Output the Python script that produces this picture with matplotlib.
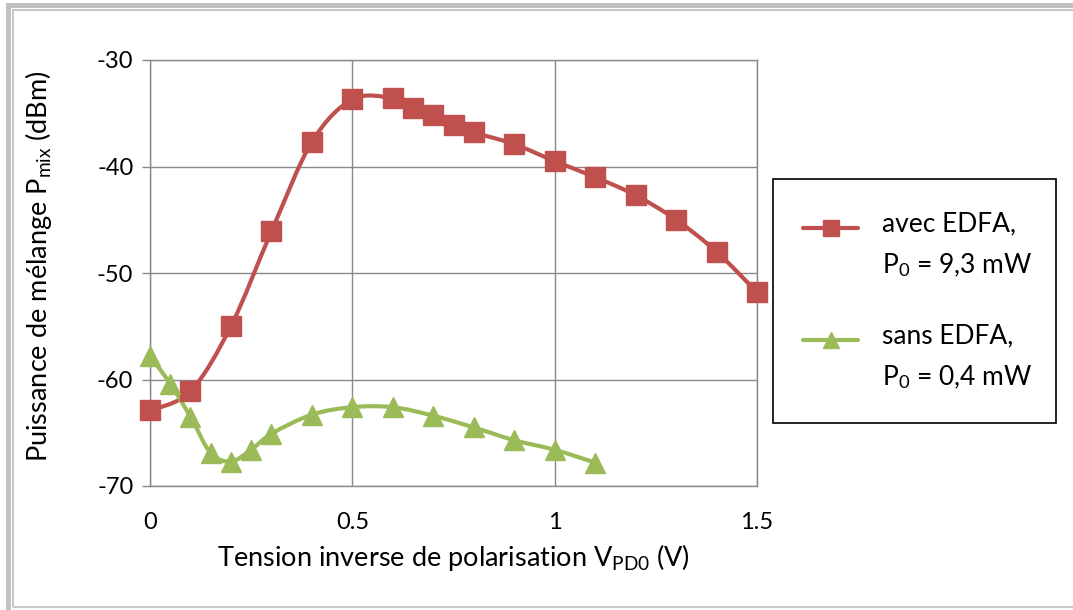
import numpy as np
import matplotlib
matplotlib.use("Agg")
import matplotlib.pyplot as plt
from matplotlib.path import Path
from matplotlib.patches import PathPatch, Rectangle
from matplotlib.lines import Line2D

plt.rcParams['font.family'] = ['Lato', 'DejaVu Sans']
plt.rcParams['mathtext.fontset'] = 'custom'
plt.rcParams['mathtext.rm'] = 'Lato'
plt.rcParams['mathtext.it'] = 'Lato:italic'
plt.rcParams['axes.unicode_minus'] = False

# mesures : tension inverse (V) / puissance de mélange (dBm)
V_AVEC = [0, 0.1, 0.2, 0.3, 0.4, 0.5, 0.6, 0.65, 0.7, 0.75, 0.8, 0.9,
          1.0, 1.1, 1.2, 1.3, 1.4, 1.5]
P_AVEC = [-62.9, -61.1, -55.0, -46.1, -37.7, -33.7, -33.6, -34.5, -35.2,
          -36.1, -36.8, -37.9, -39.5, -41.0, -42.7, -45.0, -48.0, -51.8]

V_SANS = [0, 0.05, 0.1, 0.15, 0.2, 0.25, 0.3, 0.4, 0.5, 0.6, 0.7, 0.8,
          0.9, 1.0, 1.1]
P_SANS = [-57.8, -60.4, -63.5, -66.9, -67.7, -66.6, -65.1, -63.3, -62.6,
          -62.6, -63.4, -64.5, -65.7, -66.6, -67.8]

X_TICKS = [0, 0.5, 1, 1.5]
X_TICKLABELS = ['0', '0.5', '1', '1.5']
Y_TICKS = [-70, -60, -50, -40, -30]

LABEL_AVEC = ['avec EDFA,', 'P$_0$ = 9,3 mW']
LABEL_SANS = ['sans EDFA,', 'P$_0$ = 0,4 mW']

ROUGE = '#C0504D'
VERT = '#9BBB59'
GRIS = '#898989'

W, H = 1073, 610


def smooth_path(x, y):
    # courbe lissée (Bezier type Catmull-Rom) passant par les points
    pts = np.column_stack([x, y]).astype(float)
    ext = np.vstack([pts[0], pts, pts[-1]])
    verts = [pts[0]]
    codes = [Path.MOVETO]
    for i in range(len(pts) - 1):
        p0, p1, p2, p3 = ext[i], ext[i + 1], ext[i + 2], ext[i + 3]
        verts += [p1 + (p2 - p0) / 6, p2 - (p3 - p1) / 6, p2]
        codes += [Path.CURVE4] * 3
    return Path(verts, codes)


def fx(px):
    return px / W


def fy(py):
    return 1 - py / H


fig = plt.figure(figsize=(W / 100, H / 100), dpi=100)
ax = fig.add_axes([fx(150), fy(486), fx(757) - fx(150), fy(60) - fy(486)])

for v, p, col, mk in [(V_AVEC, P_AVEC, ROUGE, 's'),
                      (V_SANS, P_SANS, VERT, '^')]:
    ax.add_patch(PathPatch(smooth_path(v, p), fill=False, ec=col, lw=3,
                           capstyle='round', joinstyle='round', zorder=3))
    ax.plot(v, p, ls='none', marker=mk, ms=14, color=col, mec=col,
            zorder=4, clip_on=False)

ax.set_xlim(0, 1.5)
ax.set_ylim(-70, -30)
ax.set_xticks(X_TICKS)
ax.set_xticklabels(X_TICKLABELS)
ax.set_yticks(Y_TICKS)
ax.grid(True, color=GRIS, lw=1)
ax.set_axisbelow(True)
for s in ax.spines.values():
    s.set_color(GRIS)
    s.set_linewidth(1)
ax.tick_params(axis='y', length=6, width=1, color=GRIS, labelsize=17, pad=6)
ax.tick_params(axis='x', length=0, labelsize=17, pad=18.5)

ax.set_xlabel('Tension inverse de polarisation V$_{\\mathrm{PD0}}$ (V)',
              fontsize=19.5, labelpad=7)
ax.set_ylabel('Puissance de mélange P$_{\\mathrm{mix}}$ (dBm)',
              fontsize=19.5, va='center')
ax.yaxis.set_label_coords((39 - 150) / 607, (486 - 266) / 426)

# cadre de la légende
fig.add_artist(Rectangle((fx(773), fy(423)), fx(283), 244 / H,
                         transform=fig.transFigure, fill=False,
                         ec='black', lw=1.2))
for y0, col, mk, lab in [(228, ROUGE, 's', LABEL_AVEC),
                         (340, VERT, '^', LABEL_SANS)]:
    fig.add_artist(Line2D([fx(803), fx(830.5), fx(858)], [fy(y0)] * 3,
                          transform=fig.transFigure, color=col, lw=3,
                          marker=mk, ms=11, mec=col, markevery=[1],
                          solid_capstyle='round'))
    fig.text(fx(882), fy(y0 - 4), lab[0], fontsize=19, va='center')
    fig.text(fx(882), fy(y0 + 37), lab[1], fontsize=19, va='center')

# bordure grise de la zone graphique
fig.add_artist(Rectangle((fx(7.5), fy(1100)), 2, fy(5) - fy(1100),
                         transform=fig.transFigure, fill=False,
                         ec='#c2c2c2', lw=3.6))
fig.add_artist(Rectangle((fx(13), fy(606.5)), 2, fy(10) - fy(606.5),
                         transform=fig.transFigure, fill=False,
                         ec='#c8c8c8', lw=1.5))

fig.savefig('out.png', dpi=100)
